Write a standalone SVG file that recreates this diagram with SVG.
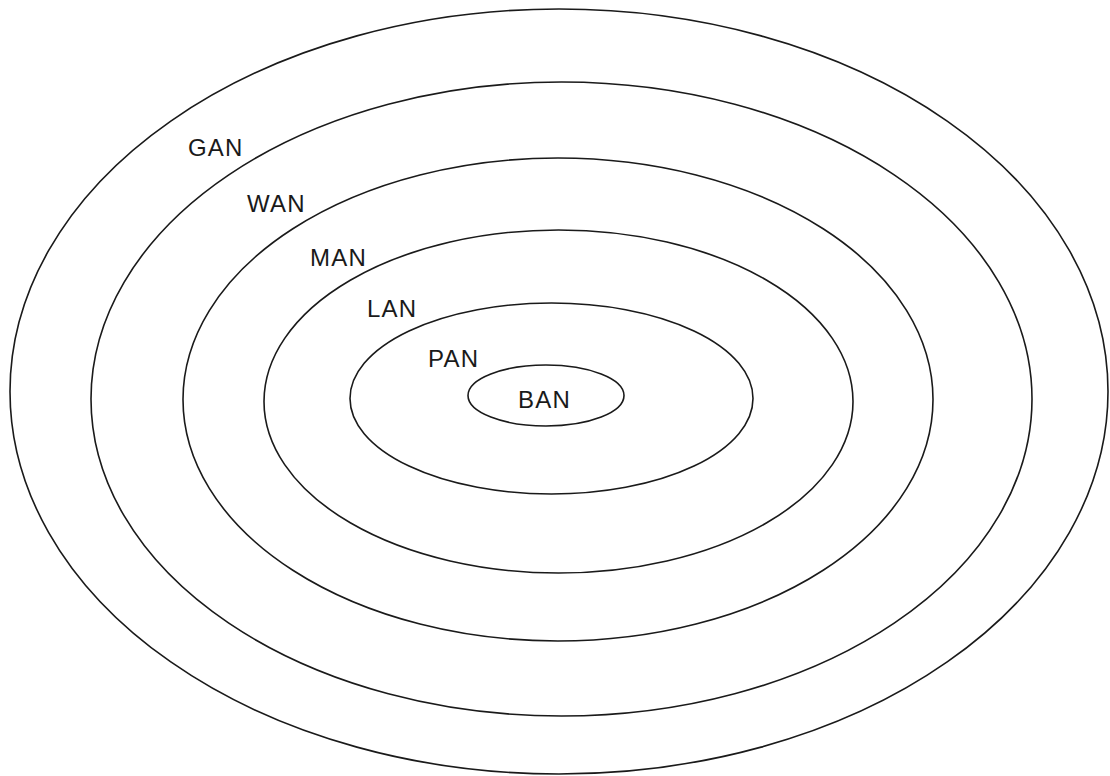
<svg xmlns="http://www.w3.org/2000/svg" width="1110" height="776" viewBox="0 0 1110 776">
<style>
.ring{fill:none;stroke:#1a1a1a;stroke-width:1.6}
.lbl{font-family:"Liberation Sans",Arial,sans-serif;font-size:24px;fill:#1a1a1a;letter-spacing:1.2px}
</style>
<rect width="1110" height="776" fill="#fff"/>
<g id="GAN"><ellipse class="ring" cx="559" cy="391.5" rx="549" ry="382.5"/><text class="lbl" x="188" y="156">GAN</text></g>
<g id="WAN"><ellipse class="ring" cx="561.5" cy="399" rx="470.5" ry="317"/><text class="lbl" x="247" y="212">WAN</text></g>
<g id="MAN"><ellipse class="ring" cx="558" cy="399.5" rx="375" ry="241.5"/><text class="lbl" x="310" y="266">MAN</text></g>
<g id="LAN"><ellipse class="ring" cx="558.5" cy="401.5" rx="294.5" ry="171.5"/><text class="lbl" x="367" y="317">LAN</text></g>
<g id="PAN"><ellipse class="ring" cx="551.5" cy="398.5" rx="201.5" ry="95.5"/><text class="lbl" x="428" y="367">PAN</text></g>
<g id="BAN"><ellipse class="ring" cx="546" cy="395.5" rx="78" ry="30.5"/><text class="lbl" x="518" y="408">BAN</text></g>
<g id="connectors"/>
</svg>
